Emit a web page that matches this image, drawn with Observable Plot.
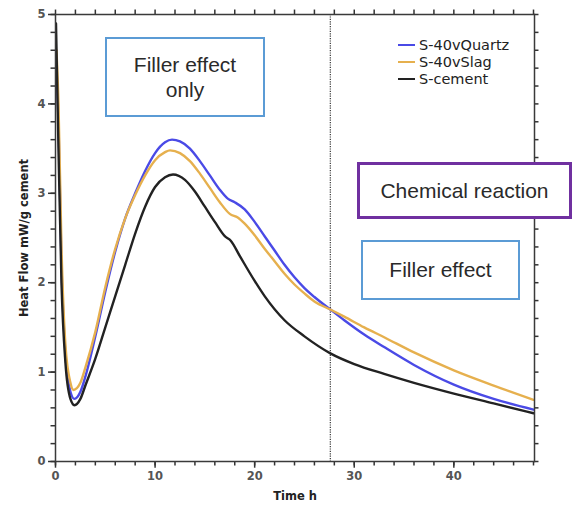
<!DOCTYPE html>
<html><head><meta charset="utf-8">
<script src="https://cdn.jsdelivr.net/npm/d3@7"></script>
<script src="https://cdn.jsdelivr.net/npm/@observablehq/plot@0.6"></script>
<style>
body{margin:0;background:#fff;}
#wrap{position:relative;width:576px;height:508px;font-family:"DejaVu Sans",sans-serif;}
.box{position:absolute;background:#fff;box-sizing:border-box;display:flex;align-items:center;justify-content:center;text-align:center;font-family:"Liberation Sans",Arial,sans-serif;font-size:21px;color:#2a2a2a;line-height:1.2;}
.leg{position:absolute;font-family:"DejaVu Sans",sans-serif;font-size:14.5px;color:#222;display:flex;align-items:center;white-space:nowrap;}
.leg span.sw{display:inline-block;width:17px;height:2px;margin-right:4px;}
</style></head>
<body><div id="wrap"></div>
<script>
const seriesNames = ["S-40vQuartz", "S-40vSlag", "S-cement"];
const seriesColors = ["#4a4ae6", "#e6b04e", "#222222"];

const quartzT = [0.1,0.3,0.6,1.0,1.5,1.9,2.5,3,4,5,6,7,8,9,10,11,11.7,12.5,13.5,14.5,15.5,16.5,17.3,18,19,20,21,22,23,24,25,26,27.6,29,31,33,36,40,44,48];
const quartzV = [4.4,3.8,2.2,1.2,0.78,0.7,0.78,0.95,1.4,1.9,2.35,2.72,3.0,3.25,3.45,3.57,3.6,3.58,3.5,3.36,3.2,3.04,2.94,2.9,2.82,2.68,2.52,2.36,2.2,2.06,1.94,1.84,1.7,1.58,1.42,1.28,1.08,0.86,0.7,0.58];

const slagT = [0.1,0.3,0.6,1.0,1.5,1.8,2.5,3,4,5,6,7,8,9,10,11,11.5,12.5,13.5,14.5,15.5,16.5,17.5,18.3,19,20,21,22,23,24,25,26,27.6,29,31,33,36,40,44,48];
const slagV = [4.6,4.0,2.4,1.3,0.88,0.8,0.88,1.05,1.45,1.95,2.38,2.72,2.98,3.2,3.37,3.46,3.48,3.45,3.36,3.22,3.06,2.9,2.77,2.73,2.66,2.53,2.38,2.24,2.1,1.98,1.88,1.79,1.7,1.62,1.5,1.39,1.22,1.02,0.85,0.69];

const cementT = [0.05,0.3,0.6,1.0,1.5,1.9,2.5,3,4,5,6,7,8,9,10,11,11.8,13,14,15,16,17,17.6,18.5,20,21,23,25,27.6,30,33,36,40,44,48];
const cementV = [4.9,3.5,2.0,1.1,0.7,0.63,0.7,0.85,1.15,1.5,1.85,2.2,2.55,2.85,3.07,3.18,3.21,3.15,3.02,2.85,2.68,2.52,2.47,2.3,2.02,1.85,1.58,1.4,1.21,1.09,0.98,0.88,0.76,0.65,0.54];

const xMajorTicks = [0, 10, 20, 30, 40];
const xMinorTicks = d3.range(0, 49, 2);
const yMajorTicks = [0, 1, 2, 3, 4, 5];
const yMinorTicks = d3.range(0, 5.01, 0.2);
const markerTime = [27.6];
const xMax = 48.1;

const rows = [];
[[quartzT, quartzV], [slagT, slagV], [cementT, cementV]].forEach(([t, v], i) => {
  t.forEach((tt, j) => rows.push({series: seriesNames[i], t: tt, v: v[j]}));
});

const tk = {stroke: "#333", strokeWidth: 1.5};
const chart = Plot.plot({
  width: 576, height: 508,
  marginLeft: 55, marginRight: 42, marginTop: 14, marginBottom: 47,
  style: {fontFamily: "DejaVu Sans", background: "#fff"},
  x: {domain: [0, xMax]},
  y: {domain: [0, 5]},
  color: {domain: seriesNames, range: seriesColors},
  marks: [
    Plot.ruleX(markerTime, {stroke: "#444", strokeWidth: 1.3, strokeDasharray: "1.2,1.2"}),
    Plot.line(rows, {x: "t", y: "v", z: "series", stroke: "series", strokeWidth: 2.4, curve: "monotone-x", clip: true}),
    // tick marks (outward) on all four sides
    Plot.ruleX(xMinorTicks, {x: d => d, y1: 0, y2: -0.05, ...tk}),
    Plot.ruleX(xMajorTicks, {x: d => d, y1: 0, y2: -0.075, ...tk}),
    Plot.ruleX(xMinorTicks, {x: d => d, y1: 5, y2: 5.05, ...tk}),
    Plot.ruleY(yMinorTicks, {y: d => d, x1: 0, x2: -0.45, ...tk}),
    Plot.ruleY(yMajorTicks, {y: d => d, x1: 0, x2: -0.7, ...tk}),
    Plot.ruleY(yMinorTicks, {y: d => d, x1: xMax, x2: xMax + 0.45, ...tk}),
    Plot.frame({stroke: "#3a3a3a", strokeWidth: 1.5}),
    Plot.axisX(xMajorTicks, {anchor: "bottom", tickSize: 0, tickPadding: 10, fontFamily: "DejaVu Sans", fontWeight: "bold", fontSize: 11.5, fill: "#555", label: "Time h", labelAnchor: "center", labelArrow: "none", labelOffset: 38}),
    Plot.axisY(yMajorTicks, {anchor: "left", tickSize: 0, tickPadding: 10, tickFormat: "d", fontFamily: "DejaVu Sans", fontWeight: "bold", fontSize: 11.5, fill: "#555", label: "Heat Flow mW/g cement", labelAnchor: "center", labelArrow: "none", labelOffset: 36})
  ]
});
d3.select(chart).selectAll("g[aria-label='x-axis label'] text, g[aria-label='y-axis label'] text")
  .attr("font-weight", "bold").attr("font-size", 11.5).attr("fill", "#222");

const wrap = document.getElementById("wrap");
wrap.appendChild(chart);

// legend
seriesNames.forEach((name, i) => {
  const d = document.createElement("div");
  d.className = "leg";
  d.style.left = "398px";
  d.style.top = (37 + i * 17) + "px";
  d.innerHTML = `<span class="sw" style="background:${seriesColors[i]}"></span>${name}`;
  wrap.appendChild(d);
});

// annotation boxes
const boxes = [
  {text: "Filler effect<br>only", left: 105, top: 37, w: 160, h: 80, border: "2px solid #5b9bd5"},
  {text: "Chemical reaction", left: 357, top: 162, w: 215, h: 57, border: "3px solid #7030a0"},
  {text: "Filler effect", left: 361, top: 240, w: 159, h: 60, border: "2px solid #5b9bd5"}
];
boxes.forEach(b => {
  const d = document.createElement("div");
  d.className = "box";
  Object.assign(d.style, {left: b.left + "px", top: b.top + "px", width: b.w + "px", height: b.h + "px", border: b.border});
  d.innerHTML = b.text;
  wrap.appendChild(d);
});
</script>
</body></html>
